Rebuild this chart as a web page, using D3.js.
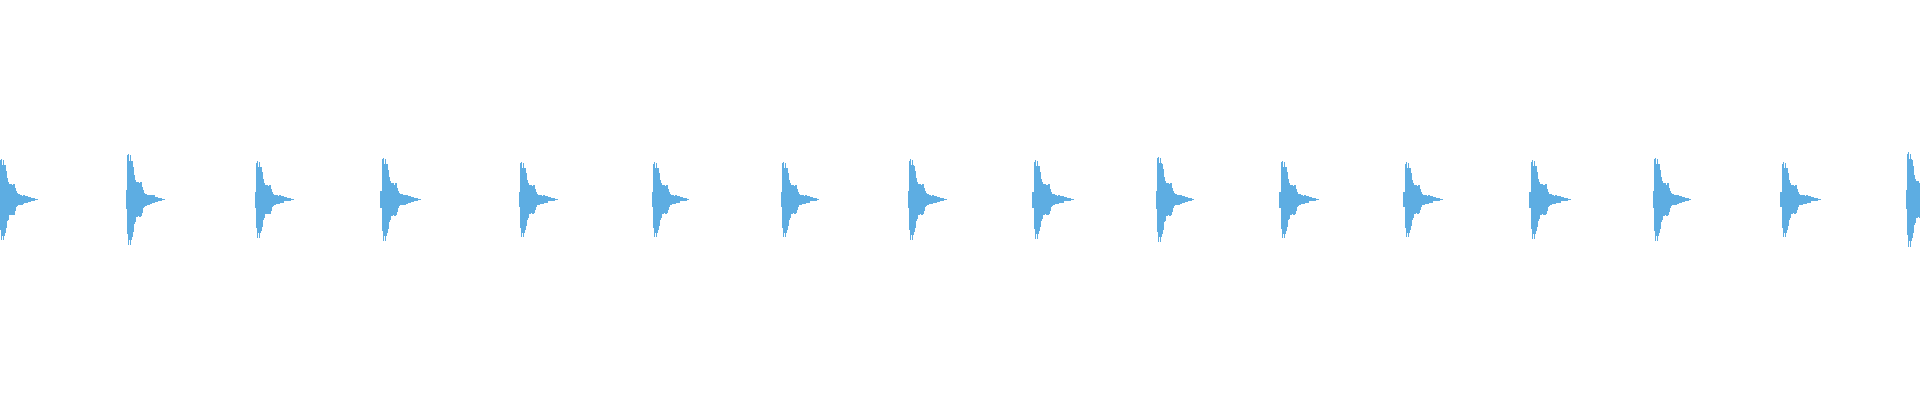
<!DOCTYPE html>
<html>
<head>
<meta charset="utf-8">
<script src="https://cdn.jsdelivr.net/npm/d3@7/dist/d3.min.js"></script>
<style>
  html, body { margin: 0; padding: 0; background: #ffffff; }
  svg { display: block; }
</style>
</head>
<body>
<div id="chart"></div>
<script>
// ---- data ----
// onset time of each hit, seconds
const onsets = [-0.004, 0.525, 1.0625, 1.583, 2.1625, 2.717, 3.254, 3.783,
                4.300, 4.817, 5.329, 5.846, 6.371, 6.8875, 7.417, 7.942];
// peak amplitude of each hit (full scale = 1)
const peaks = [0.204, 0.230, 0.192, 0.209, 0.189, 0.187, 0.189, 0.202,
               0.197, 0.214, 0.194, 0.187, 0.197, 0.209, 0.187, 0.237];
// decay length of each hit, in samples (1 sample = 1/240 s)
const lengths = [39, 39, 39, 41, 39, 37, 38, 39, 42, 38, 40, 40, 42, 38, 41, 39];
// envelope shape of one hit (max of upper half, per sample)
const envTop = [9.3, 44.3, 46, 39, 44.7, 39, 38.7, 32.7, 24.3, 20, 17.7, 17.7, 17.7, 16.5,
                17.7, 17.7, 12.7, 9.3, 7, 6, 6, 5, 5, 4.5, 5, 5, 4.3, 4.3, 4.3, 2.7, 2.7,
                2.7, 1.3, 1.3, 1.3, 1.3, 0.5, 0.5, 0.5];
// envelope shape of one hit (max of lower half, per sample)
const envBottom = [9.7, 34.7, 46, 40.7, 46, 40.7, 37.3, 32.7, 24.7, 22.7, 18, 18, 17, 18,
                   18, 17, 13.3, 9, 7.3, 6.3, 6.3, 5.7, 5.7, 5.7, 5, 4.5, 4, 4, 4, 2.3, 2.3,
                   2.3, 1.3, 1.3, 1.3, 1.3, 0.5, 0.5, 0.5];
const sampleRate = 240;      // samples per second of the envelope
const duration = [0, 8];     // seconds shown

// ---- drawing ----
const W = 1920, H = 400;
const svg = d3.select("#chart").append("svg").attr("width", W).attr("height", H);

const x = d3.scaleLinear().domain(duration).range([0, W]);
const y = d3.scaleLinear().domain([-1, 1]).range([399, 0]);

const envMax = d3.max(envTop.concat(envBottom));
const columns = [];
onsets.forEach((t0, b) => {
  const n = lengths[b];
  for (let i = 0; i < n; i++) {
    const k = Math.min(envTop.length - 1, Math.floor(i * envTop.length / n));
    columns.push({
      t: t0 + i / sampleRate,
      hi: peaks[b] * envTop[k] / envMax,
      lo: -peaks[b] * envBottom[k] / envMax
    });
  }
});

const dt = 1 / sampleRate;
svg.append("g")
  .attr("shape-rendering", "crispEdges")
  .selectAll("rect")
  .data(columns)
  .join("rect")
  .attr("x", d => Math.round(x(d.t)))
  .attr("width", Math.max(1, Math.round(x(dt) - x(0))))
  .attr("y", d => y(d.hi))
  .attr("height", d => Math.max(1, y(d.lo) - y(d.hi)))
  .attr("fill", "#5DADE2");
</script>
</body>
</html>
